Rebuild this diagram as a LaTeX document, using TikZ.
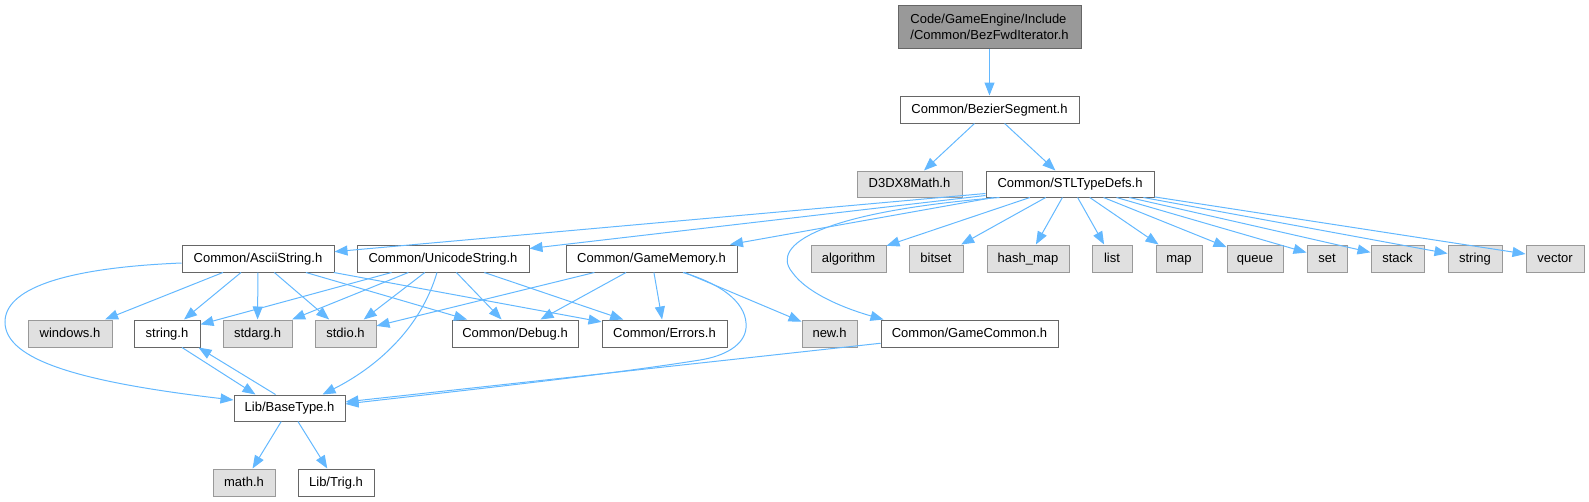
\documentclass[tikz,border=0pt]{standalone}
\usepackage{fontspec}
\setmainfont{Liberation Sans}
\usetikzlibrary{arrows.meta,calc}
\definecolor{edgec}{HTML}{63B8FF}
\definecolor{wborder}{HTML}{666666}
\definecolor{gfill}{HTML}{E0E0E0}
\definecolor{gborder}{HTML}{999999}
\definecolor{topfill}{HTML}{999999}
\begin{document}
\begin{tikzpicture}[x=1pt,y=-1pt,
  box/.style={rectangle, inner sep=0pt, line width=1pt, font=\fontsize{13}{16}\selectfont, text=black},
  one/.style={text height=9.5pt, text depth=2pt},
  wbox/.style={box, one, draw=wborder, fill=white},
  gbox/.style={box, one, draw=gborder, fill=gfill},
  tbox/.style={box, draw=wborder, fill=topfill, align=left},
  dep/.style={draw=edgec, line width=1pt, -{Triangle[length=13pt,width=10pt]}}]
\useasboundingbox (0,0) rectangle (1589,501);

% row 0-2
\node[tbox, minimum width=183pt, minimum height=43pt] (top) at (989.5,26.5) {Code/GameEngine/Include\\/Common/BezFwdIterator.h};
\node[wbox, minimum width=179pt, minimum height=27pt] (bez) at (989.5,109.5) {Common/BezierSegment.h};
\node[gbox, minimum width=105pt, minimum height=26pt] (d3d) at (909.5,184) {D3DX8Math.h};
\node[wbox, minimum width=168pt, minimum height=26pt] (stl) at (1070,184) {Common/STLTypeDefs.h};

% row 3
\node[wbox, minimum width=152pt, minimum height=27pt] (ascii) at (258,258.5) {Common/AsciiString.h};
\node[wbox, minimum width=172pt, minimum height=27pt] (uni) at (443,258.5) {Common/UnicodeString.h};
\node[wbox, minimum width=171pt, minimum height=27pt] (gmem) at (651.5,258.5) {Common/GameMemory.h};
\node[gbox, minimum width=75pt, minimum height=27pt] (alg) at (848.5,258.5) {algorithm};
\node[gbox, minimum width=54pt, minimum height=27pt] (bitset) at (936,258.5) {bitset};
\node[gbox, minimum width=82pt, minimum height=27pt] (hash) at (1028,258.5) {hash\_map};
\node[gbox, minimum width=40pt, minimum height=27pt] (list) at (1112,258.5) {list};
\node[gbox, minimum width=46pt, minimum height=27pt] (map) at (1179,258.5) {map};
\node[gbox, minimum width=56pt, minimum height=27pt] (queue) at (1255,258.5) {queue};
\node[gbox, minimum width=40pt, minimum height=27pt] (set) at (1327,258.5) {set};
\node[gbox, minimum width=53pt, minimum height=27pt] (stack) at (1397.5,258.5) {stack};
\node[gbox, minimum width=54pt, minimum height=27pt] (string) at (1475,258.5) {string};
\node[gbox, minimum width=58pt, minimum height=27pt] (vector) at (1555,258.5) {vector};

% row 4
\node[gbox, minimum width=84pt, minimum height=27pt] (windows) at (70,333.5) {windows.h};
\node[wbox, minimum width=66pt, minimum height=27pt] (stringh) at (167,333.5) {string.h};
\node[gbox, minimum width=69pt, minimum height=27pt] (stdarg) at (257.5,333.5) {stdarg.h};
\node[gbox, minimum width=61pt, minimum height=27pt] (stdio) at (345.5,333.5) {stdio.h};
\node[wbox, minimum width=126pt, minimum height=27pt] (debug) at (515,333.5) {Common/Debug.h};
\node[wbox, minimum width=125pt, minimum height=27pt] (errors) at (664.5,333.5) {Common/Errors.h};
\node[gbox, minimum width=55pt, minimum height=27pt] (newh) at (829.5,333.5) {new.h};
\node[wbox, minimum width=177pt, minimum height=27pt] (gcommon) at (969.5,333.5) {Common/GameCommon.h};

% row 5-6
\node[wbox, minimum width=111pt, minimum height=26pt] (basetype) at (289.5,408) {Lib/BaseType.h};
\node[gbox, minimum width=62pt, minimum height=27pt] (math) at (244,482.5) {math.h};
\node[wbox, minimum width=76pt, minimum height=27pt] (trig) at (336,482.5) {Lib/Trig.h};

% edges
\draw[dep] (top) -- (bez);
\draw[dep] (bez) -- (d3d);
\draw[dep] (bez) -- (stl);

\draw[dep] ($(stl.south west)+(0,-4)$) -- (ascii);
\draw[dep] ($(stl.south west)+(0,-2)$) -- (uni);
\draw[dep] ($(stl.south west)+(8,0)$) -- (gmem);
\draw[dep] ($(stl.south west)+(14,0)$) .. controls (820,212) and (770,245) .. (792,272)
           .. controls (808,295) and (850,310) .. ($(gcommon.north west)+(3,0)$);
\foreach \t in {alg,bitset,hash,list,map,queue,set,stack,string,vector}
  \draw[dep] (stl) -- (\t);

\draw[dep] (ascii) -- (windows);
\draw[dep] (ascii) -- (stringh);
\draw[dep] (ascii) -- (stdarg);
\draw[dep] (ascii) -- (stdio);
\draw[dep] (ascii) -- (debug);
\draw[dep] (ascii) -- (errors);
\draw[dep] ($(ascii.west)+(0,4.5)$) .. controls (60,268) and (5,290) .. (5,322)
           .. controls (5,360) and (80,382) .. ($(basetype.west)+(0,-8)$);

\draw[dep] (uni) -- (stringh);
\draw[dep] (uni) -- (stdarg);
\draw[dep] (uni) -- (stdio);
\draw[dep] (uni) -- (debug);
\draw[dep] (uni) -- (errors);
\draw[dep] ($(uni.south)+(-6,0)$) .. controls (420,330) and (375,368) .. ($(basetype.north east)+(-23,0)$);

\draw[dep] (gmem) -- (stdio);
\draw[dep] (gmem) -- (debug);
\draw[dep] (gmem) -- (errors);
\draw[dep] (gmem) -- (newh);
\draw[dep] ($(gmem.south)+(31.5,0)$) .. controls (725,285) and (748,305) .. (746,328)
           .. controls (744.5,345) and (725,356) .. (700,360)
           .. controls (600,376) and (440,393) .. ($(basetype.east)+(0,-4)$);

\draw[dep] (gcommon) -- (basetype);

\draw[dep] ($(stringh.south)+(15,0)$) -- ($(basetype.north)+(-34,0)$);
\draw[dep] ($(basetype.north)+(-14,0)$) -- ($(stringh.south east)+(-2,0)$);

\draw[dep] (basetype) -- (math);
\draw[dep] (basetype) -- (trig);
\end{tikzpicture}
\end{document}
